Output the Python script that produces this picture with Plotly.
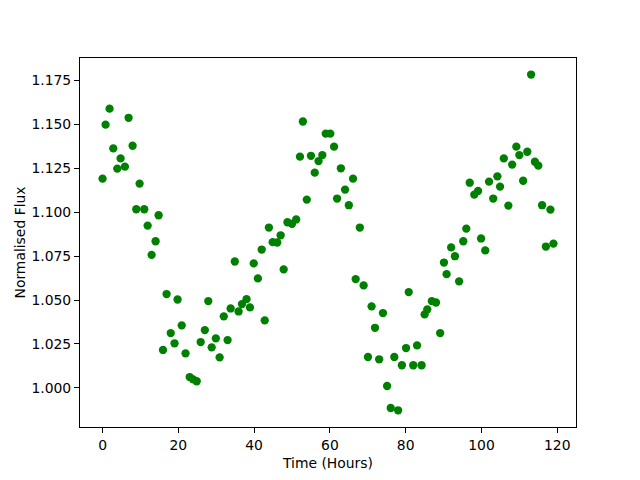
import plotly.graph_objects as go

time_hours = [
    0.0, 0.8, 1.85, 2.83, 3.89, 4.76, 5.9, 6.87, 7.93, 8.9,
    9.78, 11.0, 11.9, 12.95, 14.0, 14.8, 15.95, 16.9, 18.0, 19.0,
    19.8, 20.9, 21.9, 23.0, 23.9, 24.85, 25.9, 27.0, 27.9, 28.8,
    29.9, 30.9, 32.0, 33.0, 33.8, 34.9, 35.9, 36.8, 38.0, 38.9,
    39.9, 41.0, 42.0, 42.8, 43.9, 44.9, 46.1, 47.0, 47.8, 48.8,
    50.0, 51.1, 52.1, 52.87, 53.9, 55.0, 56.0, 57.0, 58.0, 58.9,
    60.1, 61.1, 61.9, 62.9, 64.0, 65.0, 66.1, 66.8, 67.9, 68.9,
    70.05, 71.0, 71.9, 73.0, 74.0, 75.1, 76.05, 77.0, 78.0, 79.0,
    80.1, 80.8, 82.0, 83.0, 84.2, 85.0, 85.7, 86.9, 88.0, 89.1,
    90.1, 90.8, 92.0, 93.0, 94.1, 95.2, 96.0, 96.9, 98.1, 99.1,
    99.9, 101.0, 102.0, 103.1, 104.2, 104.9, 105.9, 107.1, 108.1, 109.2,
    110.0, 111.0, 112.1, 113.1, 114.1, 115.0, 116.0, 117.0, 118.2, 119.0,
]

normalised_flux = [
    1.1190, 1.1497, 1.1588, 1.1362, 1.1247, 1.1305, 1.1258, 1.1536, 1.1377, 1.1016,
    1.1162, 1.1016, 1.0923, 1.0757, 1.0834, 1.0982, 1.0216, 1.0534, 1.0312, 1.0254,
    1.0503, 1.0356, 1.0197, 1.0062, 1.0049, 1.0038, 1.0261, 1.0329, 1.0494, 1.0231,
    1.0282, 1.0174, 1.0407, 1.0272, 1.0452, 1.0719, 1.0435, 1.0477, 1.0505, 1.0458,
    1.0708, 1.0623, 1.0787, 1.0384, 1.0912, 1.0829, 1.0827, 1.0868, 1.0674, 1.0942,
    1.0933, 1.0958, 1.1315, 1.1515, 1.1071, 1.1320, 1.1224, 1.1290, 1.1324, 1.1446,
    1.1446, 1.1372, 1.1077, 1.1249, 1.1128, 1.1039, 1.1190, 1.0619, 1.0912, 1.0583,
    1.0176, 1.0464, 1.0342, 1.0163, 1.0426, 1.0011, 0.9886, 1.0176, 0.9873, 1.0129,
    1.0227, 1.0545, 1.0129, 1.0242, 1.0129, 1.0418, 1.0447, 1.0494, 1.0486, 1.0312,
    1.0713, 1.0647, 1.0799, 1.0749, 1.0606, 1.0834, 1.0906, 1.1167, 1.1099, 1.1120,
    1.0850, 1.0782, 1.1173, 1.1077, 1.1203, 1.1145, 1.1305, 1.1037, 1.1270, 1.1372,
    1.1324, 1.1178, 1.1343, 1.1782, 1.1286, 1.1264, 1.1039, 1.0804, 1.1014, 1.0821,
]

x_ticks = [0, 20, 40, 60, 80, 100, 120]
y_ticks = [1.000, 1.025, 1.050, 1.075, 1.100, 1.125, 1.150, 1.175]

font = dict(family="DejaVu Sans", size=13.9, color="black")

fig = go.Figure(
    go.Scatter(
        x=time_hours,
        y=normalised_flux,
        mode="markers",
        marker=dict(color="#008000", size=8.3, line=dict(width=0)),
    )
)

axis_common = dict(
    showline=True,
    linecolor="black",
    linewidth=1,
    mirror=True,
    ticks="outside",
    ticklen=5,
    tickwidth=1,
    tickcolor="black",
    showgrid=False,
    zeroline=False,
    tickfont=font,
)

# the page body has an 8px default margin, so margins are offset to compensate
fig.update_layout(
    width=640,
    height=480,
    margin=dict(l=72, r=72, t=50, b=61),
    paper_bgcolor="white",
    plot_bgcolor="white",
    showlegend=False,
    font=font,
    xaxis=dict(
        range=[-5.95, 124.95],
        tickvals=x_ticks,
        ticktext=[str(v) for v in x_ticks],
        title=dict(text="Time (Hours)", font=font, standoff=6),
        **axis_common,
    ),
    yaxis=dict(
        range=[0.9778, 1.1876],
        tickvals=y_ticks,
        ticktext=[f"{v:.3f}" for v in y_ticks],
        title=dict(text="Normalised Flux", font=font, standoff=2),
        **axis_common,
    ),
)

fig.write_html("out.html")
